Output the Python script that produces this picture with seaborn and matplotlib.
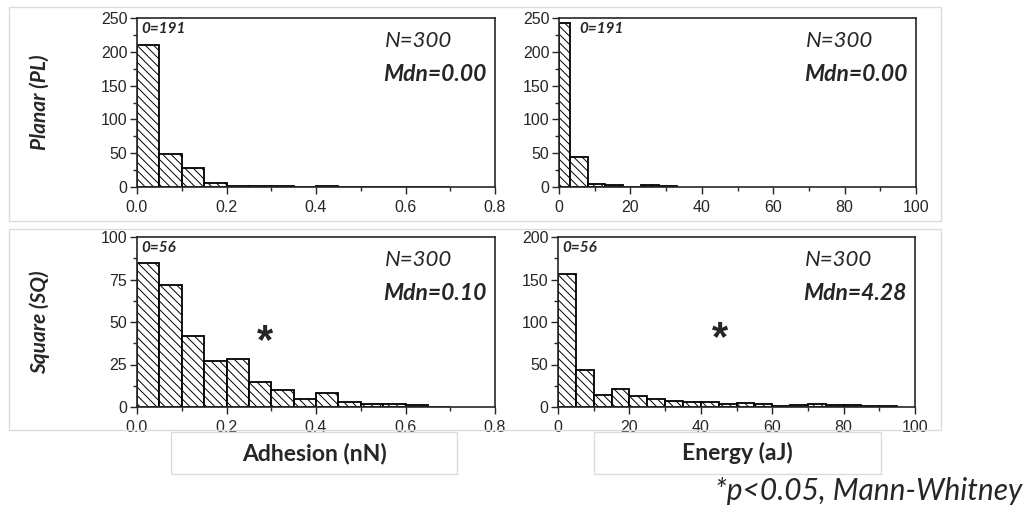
import numpy as np
import pandas as pd
import matplotlib.pyplot as plt
import seaborn as sns
from matplotlib.patches import Rectangle
from matplotlib.ticker import MultipleLocator

sns.set_theme(style="ticks")
plt.rcParams["font.family"] = ["Liberation Sans", "DejaVu Sans"]
plt.rcParams["hatch.linewidth"] = 0.7

# adhesion histograms (nN), bins of 0.05
adh_edges = [0.0, 0.05, 0.1, 0.15, 0.2, 0.25, 0.3, 0.35, 0.4, 0.45, 0.5, 0.55, 0.6, 0.65, 0.7]
adh_pl = [210, 49, 28, 6, 2, 2, 2, 0, 1, 0, 0, 0, 0, 0]
adh_sq = [85, 72, 42, 27, 28, 15, 10, 5, 8, 3, 2, 2, 1, 0]

# energy histograms (aJ)
en_pl_edges = [0, 3, 8, 13, 18, 23, 28, 33]
en_pl = [242, 45, 5, 3, 0, 3, 2]
en_sq_edges = list(range(0, 100, 5))
en_sq = [157, 44, 14, 21, 13, 9, 7, 6, 6, 3, 5, 3, 1, 2, 3, 2, 2, 1, 1]

zero_counts = ["0=191", "0=191", "0=56", "0=56"]
medians = ["Mdn=0.00", "Mdn=0.00", "Mdn=0.10", "Mdn=4.28"]
row_labels = ["Planar (PL)", "Square (SQ)"]
x_labels = ["Adhesion (nN)", "Energy (aJ)"]

W, H = 1031, 522
fig = plt.figure(figsize=(W / 100, H / 100), dpi=100)

def fx(px):
    return px / W

def fy(py):
    return 1 - py / H

# row frames
for top, bot in [(7, 221), (229, 430)]:
    fig.patches.append(Rectangle((fx(9), fy(bot)), fx(941 - 9), (bot - top) / H,
                                 transform=fig.transFigure, fill=False,
                                 edgecolor="#dcdcdc", lw=1, zorder=0))

panels = [
    (adh_edges, adh_pl, (137, 18, 495, 187), (0, 0.8), 0.2, 0.1, 250, 50, 25),
    (en_pl_edges, en_pl, (559, 18, 916, 187), (0, 100), 20, 10, 250, 50, 25),
    (adh_edges, adh_sq, (137, 237, 495, 407), (0, 0.8), 0.2, 0.1, 100, 25, 12.5),
    (en_sq_edges, en_sq, (558, 237, 915, 407), (0, 100), 20, 10, 200, 50, 25),
]
zero_x = [0.012, 0.058, 0.012, 0.012]

cal = ["Lato", "DejaVu Sans"]
for i, (edges, counts, box, xlim, xmaj, xmin, ymax, ymaj, ymin) in enumerate(panels):
    x0, y0, x1, y1 = box
    ax = fig.add_axes([fx(x0), fy(y1), fx(x1 - x0), (y1 - y0) / H])
    n = len(counts)
    e = np.asarray(edges, dtype=float)
    centers = (e[:n] + e[1:n + 1]) / 2
    df = pd.DataFrame({"x": centers, "count": counts})
    sns.histplot(data=df, x="x", weights="count", bins=list(edges[:n + 1]), ax=ax,
                 color="white", edgecolor="black", linewidth=1.3, alpha=1)
    for p in ax.patches:
        p.set_hatch("\\\\\\\\")
    ax.set_xlim(*xlim)
    ax.set_ylim(0, ymax)
    ax.xaxis.set_major_locator(MultipleLocator(xmaj))
    ax.xaxis.set_minor_locator(MultipleLocator(xmin))
    ax.yaxis.set_major_locator(MultipleLocator(ymaj))
    ax.yaxis.set_minor_locator(MultipleLocator(ymin))
    if xlim[1] < 1:
        ax.xaxis.set_major_formatter(plt.FuncFormatter(lambda v, _: f"{v:.1f}"))
    ax.tick_params(which="major", length=5, width=1, labelsize=11.5, pad=2)
    ax.tick_params(axis="x", which="major", pad=4)
    ax.tick_params(which="minor", length=3, width=1)
    for s in ax.spines.values():
        s.set_linewidth(1.2)
        s.set_visible(True)
    ax.set_xlabel("")
    ax.set_ylabel("")
    ax.text(zero_x[i], 0.975, zero_counts[i], transform=ax.transAxes, ha="left", va="top",
            fontsize=11, fontweight="bold", fontstyle="italic", family=cal)
    ax.text(0.693, 0.925, "N=300", transform=ax.transAxes, ha="left", va="top",
            fontsize=16, fontstyle="italic", family=cal)
    ax.text(0.687, 0.73, medians[i], transform=ax.transAxes, ha="left", va="top",
            fontsize=16.5, fontweight="bold", fontstyle="italic", family=cal)
    if i == 2:
        ax.text(0.287, 38, "*", ha="center", va="center", fontsize=30, fontweight="bold")
    if i == 3:
        ax.text(45.5, 80, "*", ha="center", va="center", fontsize=30, fontweight="bold")

for lab, py in zip(row_labels, [102, 322]):
    fig.text(fx(40), fy(py), lab, rotation=90, ha="center", va="center",
             fontsize=15, fontweight="bold", fontstyle="italic", family=cal)

for lab, (bx0, bx1) in zip(x_labels, [(171, 457), (594, 881)]):
    fig.patches.append(Rectangle((fx(bx0), fy(474)), fx(bx1 - bx0), 42 / H,
                                 transform=fig.transFigure, fill=False,
                                 edgecolor="#dcdcdc", lw=1))
    fig.text(fx((bx0 + bx1) / 2), fy(453), lab, ha="center", va="center",
             fontsize=16.5, fontweight="bold", family=cal)

fig.text(fx(1022), fy(491), "*p<0.05, Mann-Whitney", ha="right", va="center",
         fontsize=21.5, fontstyle="italic", family=cal)

fig.savefig("out.png", dpi=100, facecolor="white")
